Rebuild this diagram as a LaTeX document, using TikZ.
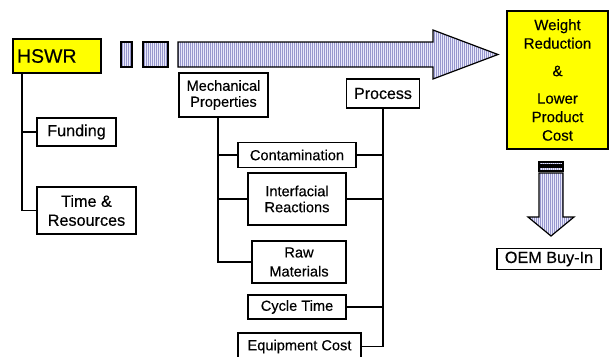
\documentclass[tikz,border=0pt]{standalone}
\usepackage{fontspec}
\setmainfont{Liberation Sans}[FakeBold=0.35]
\usetikzlibrary{patterns.meta}
\definecolor{goalyellow}{RGB}{255,255,0}
\definecolor{stripelight}{RGB}{232,232,250}
\definecolor{stripedark}{RGB}{150,150,205}
\tikzset{
  item box/.style={draw=black, line width=1.4pt, fill=white, align=center,
        inner sep=0pt, font=\fontsize{14.6}{16}\selectfont},
  big box/.style={item box, font=\fontsize{16.2}{19}\selectfont},
  hswr box/.style={draw=black, line width=1.4pt, fill=goalyellow, align=left,
        text width=80pt, inner xsep=4pt, inner ysep=0pt,
        minimum height=34pt, font=\fontsize{19.5}{22}\selectfont},
  goal box/.style={draw=black, line width=1.4pt, fill=goalyellow, align=center,
        inner sep=0pt, font=\fontsize{15}{18.5}\selectfont},
  link/.style={draw=black, line width=1.6pt},
  flow arrow/.style={draw=black, line width=1.2pt, preaction={fill=stripelight},
        pattern={Lines[angle=90,distance=2pt,line width=0.9pt]},
        pattern color=stripedark}
}
\begin{document}
\begin{tikzpicture}[x=1pt, y=-1pt]
\useasboundingbox (0,0) rectangle (609,356);
% main flow arrow
\draw[flow arrow] (121,42) rectangle (132,67);
\draw[flow arrow] (143,42) rectangle (168,67);
\draw[flow arrow] (178,42) -- (433,42) -- (433,30) -- (498,54.5) -- (433,79)
  -- (433,67) -- (178,67) -- cycle;
% program and its inputs
\node[hswr box] (hswr) at (57,56) {HSWR};
\node[big box, minimum width=79pt, minimum height=28pt] (funding) at (76.5,132) {Funding};
\node[big box, minimum width=99pt, minimum height=47pt] (timeres) at (86.5,210.5) {Time \&\\Resources};
\coordinate (hswrfoot) at (22,73);
\draw[link] (hswrfoot) |- (timeres.west);
\draw[link] (funding.west) -- (funding.west -| hswrfoot);
% properties and process tree
\node[item box, minimum width=89pt, minimum height=44pt] (mech) at (223.5,95) {Mechanical\\Properties};
\node[big box, font=\fontsize{16}{18}\selectfont, minimum width=73pt, minimum height=29pt] (process) at (383,93.5) {Process};
\node[item box, minimum width=118pt, minimum height=25pt] (contam) at (297,155) {Contamination};
\node[item box, minimum width=98pt, minimum height=52pt] (interf) at (297,199) {Interfacial\\Reactions};
\node[item box, font=\fontsize{14.6}{19}\selectfont, minimum width=94pt, minimum height=42pt] (raw) at (299,262) {Raw\\Materials};
\node[item box, minimum width=98pt, minimum height=24pt] (cycle) at (297,307) {Cycle Time};
\node[item box, minimum width=123pt, minimum height=27pt] (equip) at (299.5,346.5) {Equipment Cost};
\coordinate (mechfoot) at (218,117);
\draw[link] (mechfoot) |- (raw.west);
\draw[link] (contam.west) -- (contam.west -| mechfoot);
\draw[link] (interf.west) -- (interf.west -| mechfoot);
\draw[link] (process.south) |- (equip.east);
\draw[link] (contam.east) -- (contam.east -| process.south);
\draw[link] (interf.east) -- (interf.east -| process.south);
\draw[link] (cycle.east) -- (cycle.east -| process.south);
% goal
\node[goal box, minimum width=101pt, minimum height=138pt] (goal) at (557.5,80)
  {Weight\\Reduction\\[9pt]\&\\[9pt]Lower\\Product\\Cost};
\draw[flow arrow] (539,162) rectangle (563,165);
\draw[flow arrow] (539,167) rectangle (563,171);
\draw[flow arrow] (539,173) -- (563,173) -- (563,217) -- (574,217) -- (551,236)
  -- (528,217) -- (539,217) -- cycle;
\node[big box, minimum width=104pt, minimum height=21pt] (oem) at (549,259) {OEM Buy-In};
\end{tikzpicture}
\end{document}
